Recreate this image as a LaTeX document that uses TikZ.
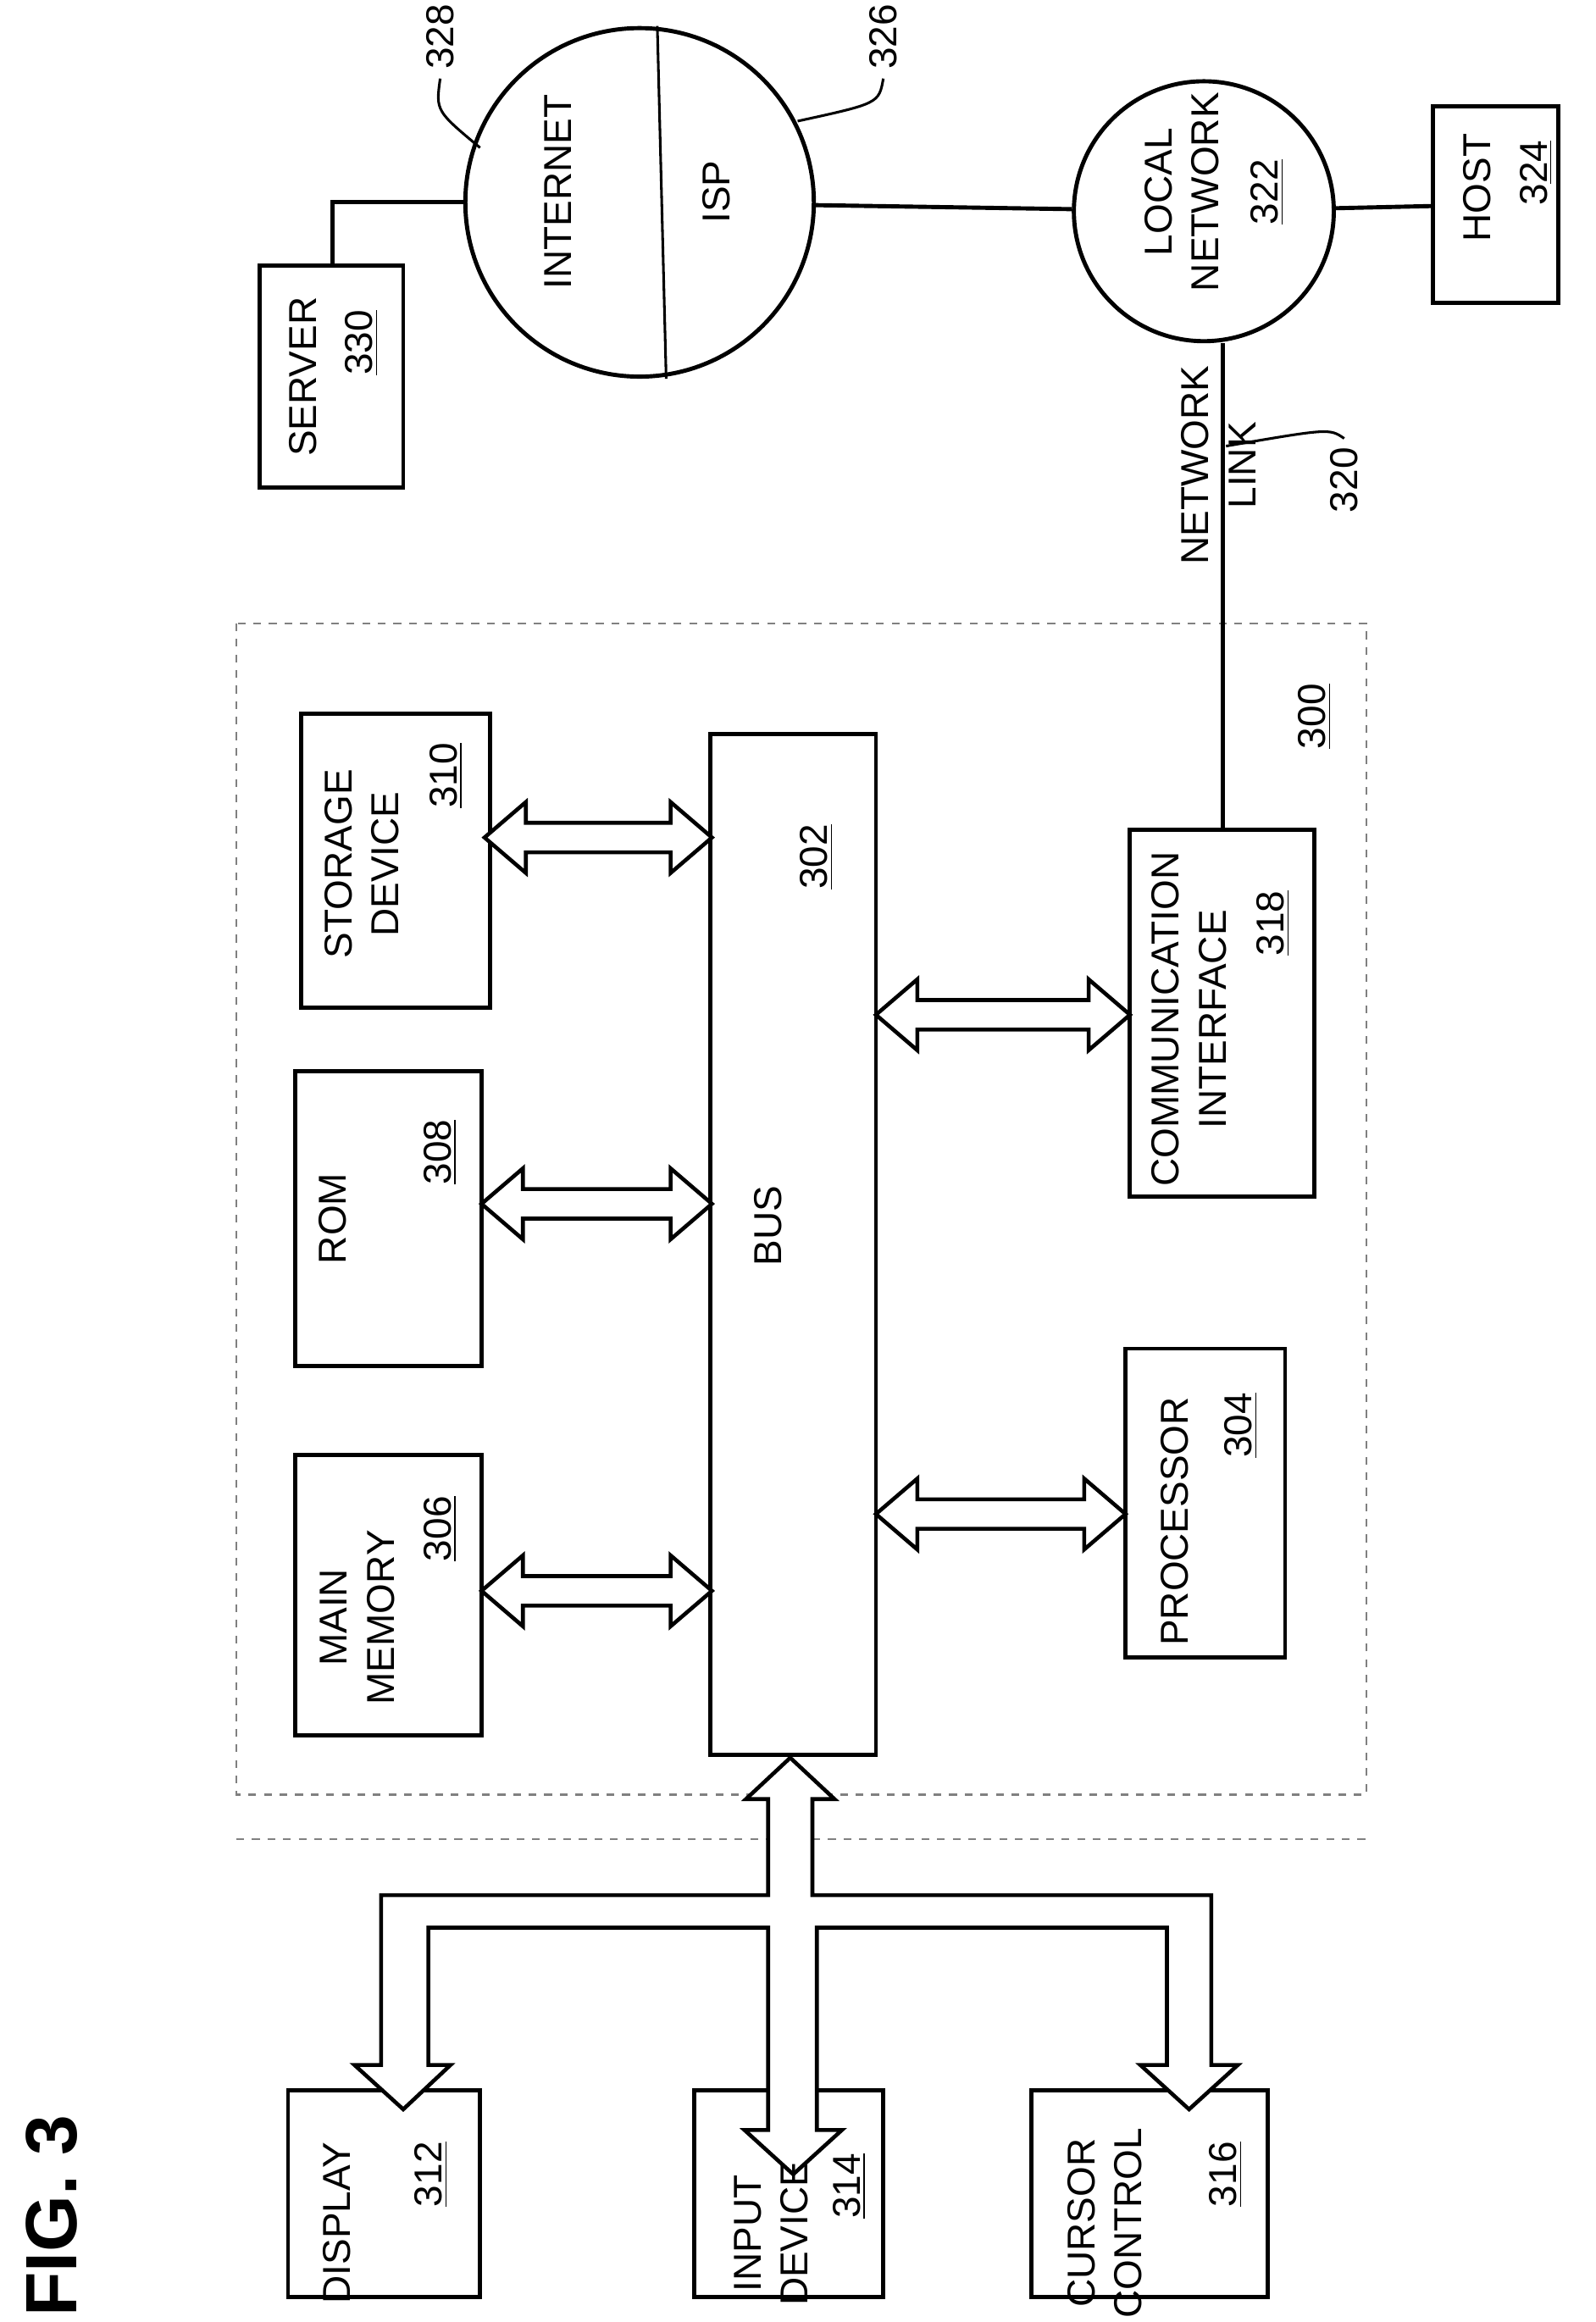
\documentclass[tikz,border=0pt]{standalone}
\usepackage{fontspec}
\setmainfont{Liberation Sans}
\usetikzlibrary{fit}
\tikzset{
  box/.style={draw, line width=1.6pt, inner sep=0pt},
  txt/.style={rotate=90, align=center, font=\fontsize{15}{18}\selectfont},
  hollow/.style={line width=1.5pt, fill=white, line join=miter},
  wire/.style={line width=1.6pt},
  lead/.style={line width=1pt}
}
% hollow double arrow from x #1 to x #2 at height #3
\newcommand\dblarrow[3]{%
  \draw[hollow] (#1,#3) -- (#1+28,#3-24) -- (#1+28,#3-10) -- (#2-28,#3-10)
    -- (#2-28,#3-24) -- (#2,#3) -- (#2-28,#3+24) -- (#2-28,#3+10)
    -- (#1+28,#3+10) -- (#1+28,#3+24) -- cycle;}
\begin{document}
\begin{tikzpicture}[x=0.02cm, y=-0.02cm]
  \useasboundingbox (0,0) rectangle (1080,1572);

  % outer system
  \draw[dashed, gray, line width=0.8pt] (160,422) rectangle (925,1215);
  \draw[dashed, gray, line width=0.8pt] (160,1245) -- (925,1245);
  \node[txt] at (890,485) {\underline{300}};

  % boxes
  \node[box, fit={(481,497) (593,1188)}] (bus) {};
  \node[box, fit={(204,483) (332,682)}] (storage) {};
  \node[box, fit={(200,725) (326,925)}] (rom) {};
  \node[box, fit={(200,985) (326,1175)}] (mainmem) {};
  \node[box, fit={(765,562) (890,810)}] (comm) {};
  \node[box, fit={(762,913) (870,1122)}] (proc) {};
  \node[box, fit={(176,180) (273,330)}] (server) {};
  \node[box, fit={(970,72) (1055,205)}] (host) {};
  \node[box, fit={(195,1415) (325,1555)}] (display) {};
  \node[box, fit={(470,1415) (598,1555)}] (input) {};
  \node[box, fit={(698,1415) (858,1555)}] (cursor) {};
  \node[draw, circle, line width=1.6pt, minimum size=4.72cm] (inet) at (433,137) {};
  \node[draw, circle, line width=1.6pt, minimum size=3.52cm] (lan) at (815,143) {};

  % bus arrows
  \dblarrow{328}{482}{567}
  \dblarrow{326}{482}{815}
  \dblarrow{326}{482}{1077}
  \dblarrow{593}{765}{687}
  \dblarrow{593}{762}{1025}

  % io arrow
  \draw[hollow]
    (535,1190) -- (565,1218) -- (550,1218) -- (550,1283) -- (820,1283)
    -- (820,1398) -- (838,1398) -- (805,1428) -- (772,1398) -- (790,1398)
    -- (790,1305) -- (553,1305) -- (553,1442) -- (570,1442) -- (537,1472)
    -- (504,1442) -- (520,1442) -- (520,1305) -- (290,1305) -- (290,1398)
    -- (305,1398) -- (273,1428) -- (240,1398) -- (258,1398) -- (258,1283)
    -- (520,1283) -- (520,1218) -- (505,1218) -- cycle;

  % texts
  \node[txt] at (520,830) {BUS};
  \node[txt] at (553,580) {\underline{302}};
  \node[txt] at (245,585) {STORAGE\\DEVICE};
  \node[txt] at (302,525) {\underline{310}};
  \node[txt] at (225,825) {ROM};
  \node[txt] at (298,780) {\underline{308}};
  \node[txt] at (242,1095) {MAIN\\MEMORY};
  \node[txt] at (298,1035) {\underline{306}};
  \node[txt] at (805,690) {COMMUNICATION\\INTERFACE};
  \node[txt] at (862,625) {\underline{318}};
  \node[txt] at (795,1030) {PROCESSOR};
  \node[txt] at (840,965) {\underline{304}};
  \node[txt] at (205,255) {SERVER};
  \node[txt] at (245,232) {\underline{330}};
  \node[txt] at (1000,127) {HOST};
  \node[txt] at (1040,117) {3\underline{24}};
  \node[txt] at (378,130) {INTERNET};
  \node[txt] at (485,130) {ISP};
  \node[txt] at (800,130) {LOCAL\\NETWORK};
  \node[txt] at (858,130) {\underline{322}};
  \node[txt] at (228,1505) {DISPLAY};
  \node[txt] at (292,1472) {\underline{312}};
  \node[txt] at (522,1512) {INPUT\\DEVICE};
  \node[txt] at (575,1480) {\underline{314}};
  \node[txt] at (748,1505) {CURSOR\\CONTROL};
  \node[txt] at (830,1472) {\underline{316}};
  \node[txt] at (825,315) {NETWORK\\LINK};
  \node[txt] (n320) at (910,325) {320};
  \node[txt] (n328) at (298,25) {328};
  \node[txt] (n326) at (598,25) {326};
  \node[rotate=90, font=\bfseries\fontsize{28}{32}\selectfont] at (35,1500) {FIG. 3};

  % network
  \draw[wire] (comm.north -| 828,0) -- (lan.south -| 828,0);
  \draw[wire] (lan) -- (host);
  \draw[wire] (inet) -- (lan);
  \draw[wire] (server.north -| 225,0) |- (inet.west);
  \draw[line width=1pt] (inet.north -| 445,0) -- (inet.south -| 451,0);

  % leaders
  \draw[lead] (n328.west) .. controls (295,75) .. (325,100);
  \draw[lead] (n326.west) .. controls (595,70) .. (540,82);
  \draw[lead] (n320.east) .. controls (900,290) .. (830,302);
\end{tikzpicture}
\end{document}
